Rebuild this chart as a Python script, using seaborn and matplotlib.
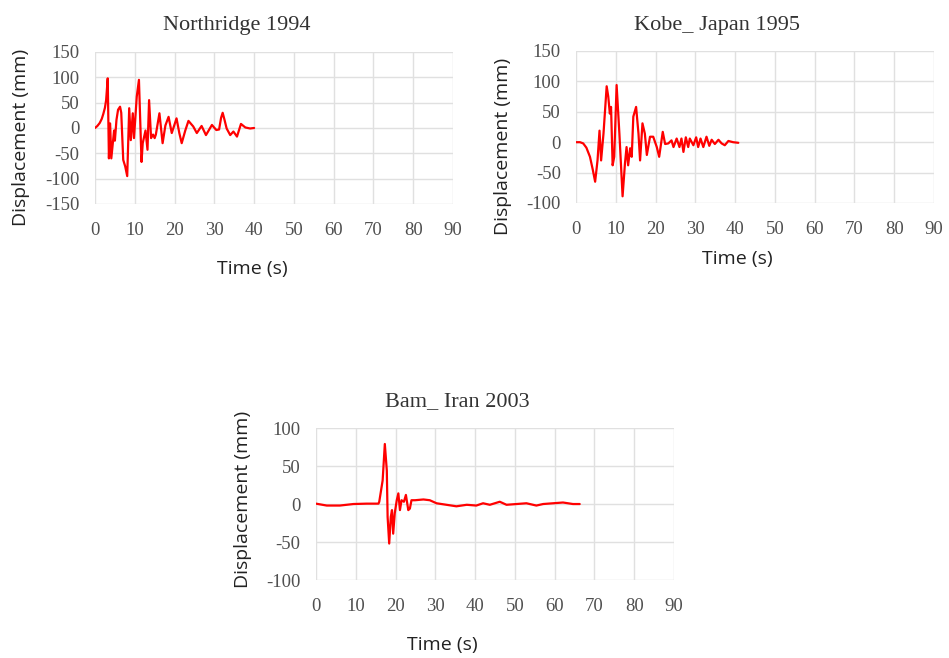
import matplotlib
matplotlib.use("Agg")
import matplotlib.pyplot as plt
import seaborn as sns
import pandas as pd

# ---- data ----
northridge_t = [0, 0.6, 1.2, 1.7, 2.1, 2.5, 2.8, 3.2, 3.5, 3.8, 4.1, 4.8, 5.0, 5.4, 5.8, 6.3, 6.6, 7.1, 7.6, 8.1,
                8.6, 9.0, 9.5, 9.8, 10.5, 11.05, 11.7, 12.0, 12.7, 13.2, 13.6, 14.1, 14.6, 15.0,
                15.3, 16.2, 17.0, 17.7, 18.5, 19.3, 20.5, 21.2, 21.8, 22.7, 23.5, 24.7, 25.6, 26.8, 27.9, 29.4,
                30.5, 31.2, 31.7, 32.1, 32.6, 33.1, 34.0, 34.8, 35.7, 36.7, 37.8, 39.0, 40.0]
northridge_disp = [0, 4, 10, 18, 28, 40, 55, 98, -60, 9, -60, -5, -25, 16, 36, 42, 30, -63, -76, -95,
                   39, -24, 29, -20, 62, 95, -67, -30, -5, -43, 55, -20, -13, -20,
                   -13, 29, -30, 5, 22, -10, 19, -10, -30, -5, 14, 3, -10, 4, -14, 6,
                   -4, -3, 20, 30, 15, -1, -14, -7, -17, 8, 1, -1, 0]

kobe_t = [0, 1.0, 1.8, 2.6, 3.5, 4.2, 4.8, 5.4, 5.9, 6.3, 6.9, 7.3, 7.7, 8.1, 8.5, 8.8, 9.2, 9.6, 10.2, 10.9,
          11.7, 12.3, 12.7, 13.1, 13.6, 14.0, 14.4, 15.1, 15.7, 16.1, 16.7, 17.3, 17.8, 18.6,
          19.4, 20.3, 20.9, 21.8, 22.4, 23.2, 24.0, 24.5, 25.3, 26.0, 26.5, 27.0, 27.6, 28.2,
          28.6, 29.5, 30.2, 30.7, 31.3, 32.0, 32.8, 33.5, 34.1, 34.9, 35.8, 36.6, 37.4, 38.3,
          39.5, 40.8]
kobe_disp = [0, 0, -2, -9, -24, -45, -65, -30, 19, -30, 14, 53, 92, 75, 47, 58, -38, -24, 94, 14,
             -89, -35, -8, -38, -10, -24, 42, 58, 14, -30, 31, 14, -21, 9,
             9, -8, -24, 17, -3, -2, 3, -8, 6, -8, 6, -16, 8, -8,
             6, -5, 8, -8, 6, -8, 9, -6, 4, -3, 4, -2, -5, 2,
             0, -1]

bam_t = [0, 2.7, 6.0, 9.4, 12.7, 15.7, 15.9, 16.75, 17.3, 17.8, 18.0, 18.4, 18.8, 19.1, 19.4,
         19.8, 20.3, 20.7, 21.1, 21.5, 22.1, 22.6, 23.2, 23.6, 24.0, 24.9, 27.0, 28.6, 30.3,
         32.8, 35.3, 37.9, 40.3, 42.0, 43.7, 46.2, 47.9, 50.4, 52.9, 55.4, 57.1, 59.6, 62.1,
         64.6, 66.3]
bam_disp = [0.5, -2, -2, 0, 0.5, 0.5, 3, 31, 79, 44, -17, -52, -17, -8, -39,
            -12, 5, 14, -8, 5, 3, 12, -8, -6, 5, 5, 6, 5, 1,
            -1, -3, -1, -2, 1, -1, 3, -1, 0, 1, -2, 0, 1, 2,
            0, 0]

titles = ["Northridge 1994", "Kobe_ Japan 1995", "Bam_ Iran 2003"]
x_ticks = [0, 10, 20, 30, 40, 50, 60, 70, 80, 90]
y_ticks_list = [[-150, -100, -50, 0, 50, 100, 150],
                [-100, -50, 0, 50, 100, 150],
                [-100, -50, 0, 50, 100]]
x_label = "Time (s)"
y_label = "Displacement (mm)"

sns.set_theme(style="white")
plt.rcParams["axes.unicode_minus"] = False

fig = plt.figure(figsize=(9.49, 6.58), dpi=100)
axes_rects = [[0.1001, 0.690, 0.3772, 0.231],
              [0.607, 0.6915, 0.3772, 0.231],
              [0.333, 0.1185, 0.3772, 0.231]]
ylab_pos = [(-0.207, 0.4375), (-0.204, 0.375), (-0.205, 0.533)]
xlab_pos = [(0.4385, -0.43), (0.45, -0.37), (0.352, -0.43)]
title_pos = [(0.397, 1.175), (0.395, 1.17), (0.395, 1.175)]

series = [(northridge_t, northridge_disp), (kobe_t, kobe_disp), (bam_t, bam_disp)]

serif = ["Liberation Serif", "DejaVu Serif"]
sans = ["Open Sans", "DejaVu Sans"]

for i, (t, d) in enumerate(series):
    ax = fig.add_axes(axes_rects[i])
    df = pd.DataFrame({"t": t, "d": d})
    sns.lineplot(data=df, x="t", y="d", ax=ax, color="#ff0000", linewidth=1.6,
                 sort=False, estimator=None)
    yt = y_ticks_list[i]
    ax.set_xlim(0, 90)
    ax.set_ylim(yt[0], yt[-1])
    ax.set_xticks(x_ticks)
    ax.set_yticks(yt)
    ax.set_xticklabels([str(v) for v in x_ticks], fontfamily=serif, fontsize=13.5, color="#505050")
    ax.set_yticklabels([str(v) for v in yt], fontfamily=serif, fontsize=13.5, color="#505050")
    ax.tick_params(axis="y", length=0, pad=11)
    ax.tick_params(axis="x", length=0, pad=13)
    ax.grid(True, color="#e0e0e0", linewidth=1.0)
    for s in ax.spines.values():
        s.set_visible(False)
    ax.set_xlabel(x_label, fontfamily=sans, fontsize=14, color="#222222", va="center")
    ax.set_ylabel(y_label, fontfamily=sans, fontsize=14, color="#222222", va="center")
    ax.xaxis.set_label_coords(*xlab_pos[i])
    ax.yaxis.set_label_coords(*ylab_pos[i])
    ax.set_title(titles[i], fontfamily=serif, fontsize=16, color="#333333",
                 x=title_pos[i][0], y=title_pos[i][1], va="center", pad=0)

fig.savefig("out.png", dpi=100, facecolor="white")
